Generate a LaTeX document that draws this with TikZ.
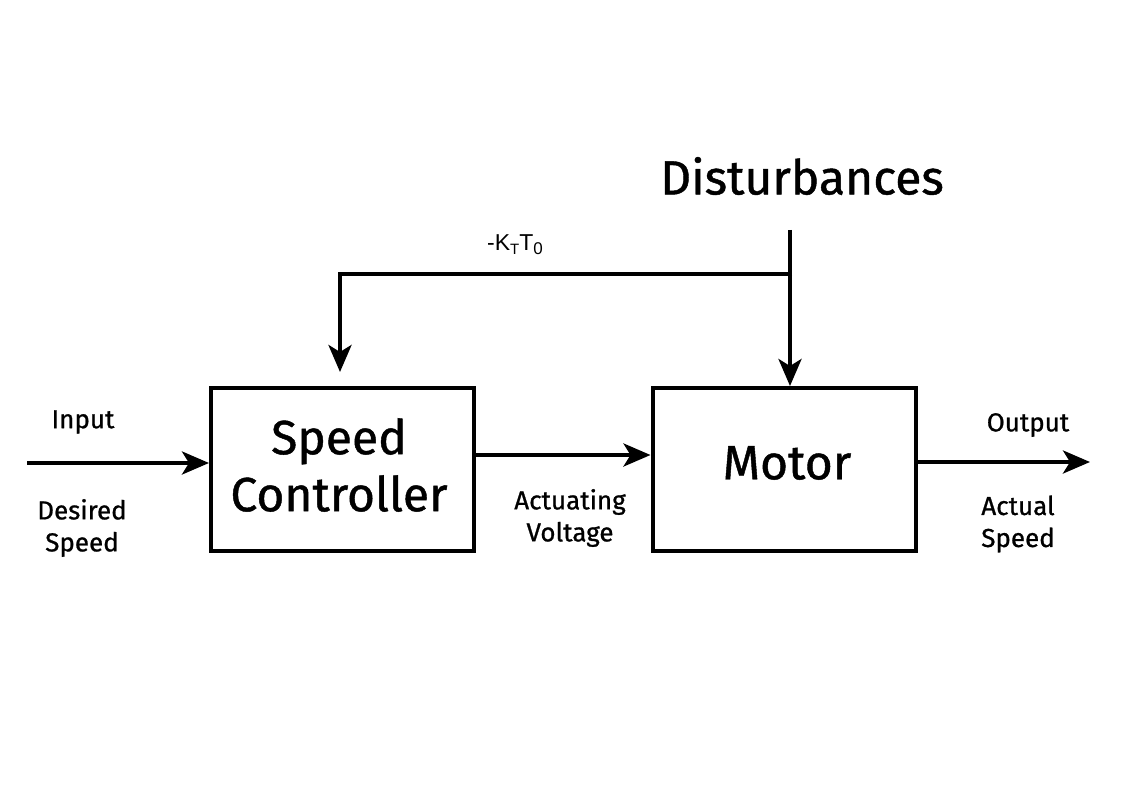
\documentclass[tikz,border=0pt]{standalone}
\usepackage{fontspec}
\setmainfont{Fira Sans}[FakeBold=0.9]
\newfontfamily\arialfont{Liberation Sans}
\usetikzlibrary{arrows.meta}
\begin{document}
\begin{tikzpicture}[x=1pt,y=-1pt,
  blk/.style={draw,line width=4pt,minimum width=263pt,minimum height=163pt,inner sep=0pt},
  conn/.style={line width=4pt,-{Stealth[length=27pt,width=23pt,inset=7pt]}},
  wire/.style={line width=4pt},
  lbl/.style={font=\fontsize{26}{32}\selectfont,align=center,inner sep=0pt},
  big/.style={font=\fontsize{48}{57}\selectfont,align=center,inner sep=0pt}]
\useasboundingbox (0,0) rectangle (1123,794);
\node[blk] (sc) at (342.5,469.5) {};
\node[big] (sctext) at (339,465) {Speed\\Controller};
\node[blk] (mot) at (784,469.5) {};
\node[big] (mottext) at (787,463) {Motor};
\node[big] (dist) at (802,176) {Disturbances};
\coordinate (in) at (27,463);
\coordinate (out) at (1090,462);
\coordinate (dtop) at (790,230);
\coordinate (dj) at (790,274);
\coordinate (fbc) at (340,274);
\draw[conn] (in) -- (in -| sc.west);
\draw[conn] (sc.east |- 0,455) -- (mot.west |- 0,455);
\draw[conn] (mot.east |- out) -- (out);
\draw[conn] (dtop) -- (dtop |- mot.north);
\draw[wire] ([xshift=2pt]dj) -- ([xshift=-2pt]fbc);
\draw[conn] ([yshift=-2pt]fbc) -- (fbc |- 0,372);
\node[lbl] (inp) at (83,422) {Input};
\node[lbl] (des) at (82,528) {Desired\\Speed};
\node[lbl] (act) at (570,518) {Actuating\\Voltage};
\node[lbl] (outp) at (1028,425) {Output};
\node[lbl] (acs) at (1018,524) {Actual\\Speed};
\node[inner sep=0pt,font=\arialfont\fontsize{23}{26}\selectfont] (kt) at (515,245) {-K\raisebox{-4pt}{\fontsize{15}{16}\selectfont T}T\raisebox{-4pt}{\fontsize{17}{18}\selectfont 0}};
\end{tikzpicture}
\end{document}
